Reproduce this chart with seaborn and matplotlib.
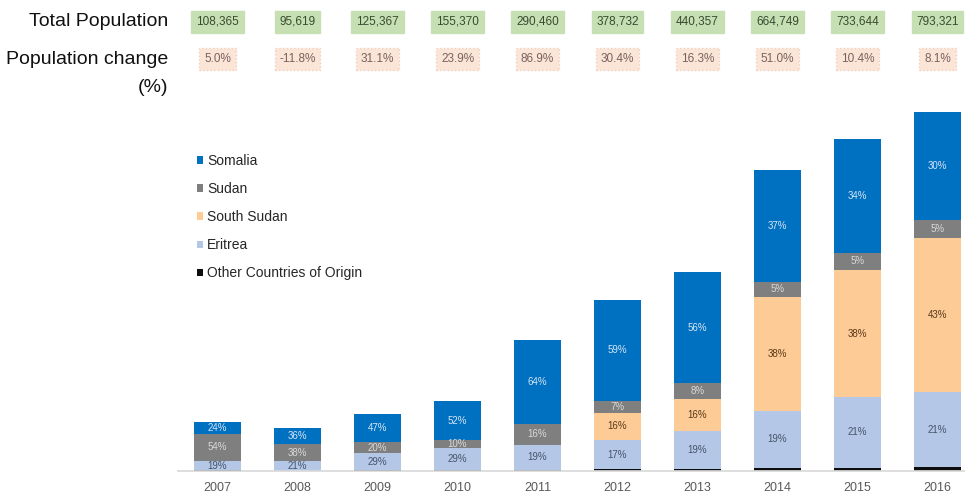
import numpy as np
import pandas as pd
from matplotlib import pyplot as plt
import seaborn as sns

sns.set_theme(style="white")
plt.rcParams['font.family'] = ['Liberation Sans', 'DejaVu Sans']

years = [2007, 2008, 2009, 2010, 2011, 2012, 2013, 2014, 2015, 2016]
total = [108365, 95619, 125367, 155370, 290460, 378732, 440357, 664749, 733644, 793321]
change = [5.0, -11.8, 31.1, 23.9, 86.9, 30.4, 16.3, 51.0, 10.4, 8.1]

# share of each origin (%), as labelled on the bars
somalia = [24, 36, 47, 52, 64, 59, 56, 37, 34, 30]
sudan = [54, 38, 20, 10, 16, 7, 8, 5, 5, 5]
south_sudan = [0, 0, 0, 0, 0, 16, 16, 38, 38, 43]
eritrea = [19, 21, 29, 29, 19, 17, 19, 19, 21, 21]
other = [1, 1, 1, 1, 1, 1, 1, 1, 1, 1]

origins = ['Other Countries of Origin', 'Eritrea', 'South Sudan', 'Sudan', 'Somalia']
shares = [other, eritrea, south_sudan, sudan, somalia]
colors = ['#0d0d0d', '#b4c7e7', '#fdcb95', '#7f7f7f', '#0070c0']
label_col = [None, '#44546a', '#5a3a1a', '#d9d9d9', '#d6e6f5']

pct = np.array(shares, dtype=float)
seg = pct / pct.sum(axis=0) * np.array(total)
cum = seg.cumsum(axis=0)

df = pd.DataFrame({'year': [str(y) for y in years]})
for name, c in zip(origins, cum):
    df[name] = c

fig = plt.figure(figsize=(9.65, 4.95), dpi=100)
left_px = 177.5
step = 80.0
ax = fig.add_axes([left_px/965, 24/495, (965 - left_px)/965, 371/495])

# draw cumulative totals from the top segment down so they stack
for i in range(len(origins) - 1, -1, -1):
    sns.barplot(data=df, x='year', y=origins[i], color=colors[i], width=0.58,
                saturation=1, errorbar=None, ax=ax, label=origins[i],
                linewidth=0)

for i in range(1, len(origins)):
    for j in range(len(years)):
        if shares[i][j] == 0:
            continue
        yc = cum[i][j] - seg[i][j] / 2
        ax.text(j, yc, f'{shares[i][j]}%', ha='center', va='center',
                fontsize=7, color=label_col[i])

ax.set_xlim(-0.5, -0.5 + (965 - left_px) / step)
ax.set_ylim(0, 820000)
ax.set_ylabel('')
ax.set_xlabel('')
ax.set_yticks([])
for s in ['top', 'right', 'left']:
    ax.spines[s].set_visible(False)
ax.spines['bottom'].set_color('#d9d9d9')
ax.tick_params(axis='x', length=0, labelsize=9, labelcolor='#595959', pad=8)

handles, labels = ax.get_legend_handles_labels()
ax.legend(handles, labels, loc='upper left', bbox_to_anchor=(0.018, 0.87),
          frameon=False, fontsize=10, handlelength=0.45, handleheight=0.45,
          handletextpad=0.25, labelspacing=1.02, labelcolor='#262626',
          borderaxespad=0)

# summary rows above the chart
def xfig(j):
    return (left_px + (j + 0.5) * step) / 965

fig.text(168/965, 1 - 22/495, 'Total Population', ha='right', va='center',
         fontsize=14, color='#111111')
fig.text(168/965, 1 - 60/495, 'Population change', ha='right', va='center',
         fontsize=14, color='#111111')
fig.text(168/965, 1 - 88/495, '(%)', ha='right', va='center',
         fontsize=14, color='#111111')
for j in range(len(years)):
    fig.text(xfig(j), 1 - 22/495, f'{total[j]:,}', ha='center', va='center',
             fontsize=8.5, color='#3a4a30',
             bbox=dict(boxstyle='square,pad=0.4', fc='#c6e0b4', ec='#c6e0b4'))
    fig.text(xfig(j), 1 - 59/495, f'{change[j]:.1f}%', ha='center', va='center',
             fontsize=8.5, color='#7a6060',
             bbox=dict(boxstyle='square,pad=0.4', fc='#fbe5d6', ec='#f0d0c0',
                       ls=':'))

plt.savefig('out.png', dpi=100)
